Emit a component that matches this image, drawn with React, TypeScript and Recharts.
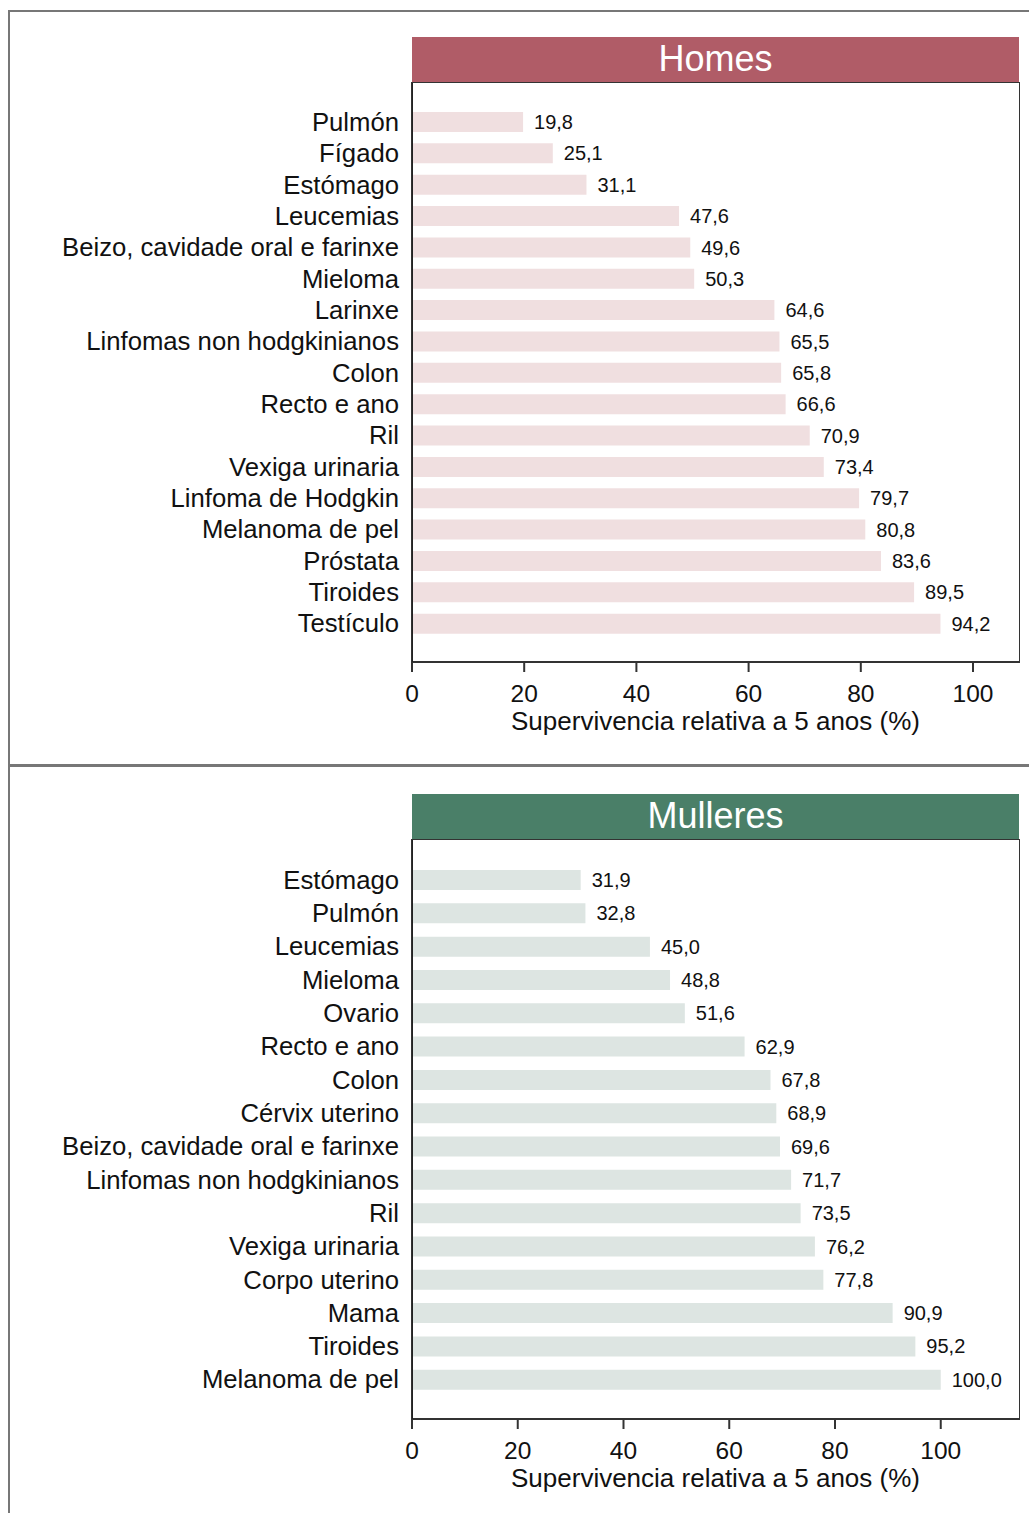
import React from "react";
import { BarChart, Bar, XAxis, YAxis, LabelList } from "recharts";

const homesCancers = [
  "Pulmón", "Fígado", "Estómago", "Leucemias", "Beizo, cavidade oral e farinxe", "Mieloma",
  "Larinxe", "Linfomas non hodgkinianos", "Colon", "Recto e ano", "Ril", "Vexiga urinaria",
  "Linfoma de Hodgkin", "Melanoma de pel", "Próstata", "Tiroides", "Testículo",
];
const homesValues = [19.8, 25.1, 31.1, 47.6, 49.6, 50.3, 64.6, 65.5, 65.8, 66.6, 70.9, 73.4, 79.7, 80.8, 83.6, 89.5, 94.2];

const mulleresCancers = [
  "Estómago", "Pulmón", "Leucemias", "Mieloma", "Ovario", "Recto e ano", "Colon", "Cérvix uterino",
  "Beizo, cavidade oral e farinxe", "Linfomas non hodgkinianos", "Ril", "Vexiga urinaria",
  "Corpo uterino", "Mama", "Tiroides", "Melanoma de pel",
];
const mulleresValues = [31.9, 32.8, 45.0, 48.8, 51.6, 62.9, 67.8, 68.9, 69.6, 71.7, 73.5, 76.2, 77.8, 90.9, 95.2, 100.0];

const xTicks = [0, 20, 40, 60, 80, 100];
const axisTitle = "Supervivencia relativa a 5 anos (%)";

const FONT = "'Liberation Sans', Arial, sans-serif";
const fmt = (v: any) => Number(v).toFixed(1).replace(".", ",");

type PanelProps = {
  title: string;
  headerColor: string;
  barColor: string;
  names: string[];
  values: number[];
  xMax: number;
  top: number;
  height: number;
  plotTop: number;
  plotBottom: number;
};

function Panel({ title, headerColor, barColor, names, values, xMax, top, height, plotTop, plotBottom }: PanelProps) {
  const data = names.map((name, i) => ({ name, value: values[i] }));
  const axisH = 80;
  const marginBottom = height - plotBottom - axisH;
  return (
    <div style={{ position: "absolute", left: 0, top, width: 1029, height }}>
      <div
        style={{
          position: "absolute", left: 412, top: plotTop - 46, width: 607, height: 46,
          background: headerColor, color: "#fff", fontFamily: FONT, fontSize: 36,
          textAlign: "center", lineHeight: "44px",
        }}
      >
        {title}
      </div>
      <BarChart
        width={1029}
        height={height}
        data={data}
        layout="vertical"
        margin={{ top: plotTop, right: 10, left: 12, bottom: marginBottom }}
        style={{ position: "absolute", left: 0, top: 0 }}
      >
        <XAxis
          type="number"
          domain={[0, xMax]}
          ticks={xTicks}
          height={axisH}
          tickSize={10}
          tickMargin={13}
          tick={{ fill: "#111", fontSize: 24.5, fontFamily: FONT }}
          stroke="#333"
          strokeWidth={2}
          allowDataOverflow
          label={{
            content: (p: any) => {
              const vb = p.viewBox;
              return (
                <text x={vb.x + vb.width / 2} y={vb.y + 68} textAnchor="middle" fill="#111" fontSize={26} fontFamily={FONT}>
                  {axisTitle}
                </text>
              );
            },
          }}
        />
        <YAxis
          type="category"
          dataKey="name"
          width={400}
          tickLine={false}
          tickSize={0}
          tickMargin={13}
          padding={{ top: 23, bottom: 23 }}
          interval={0}
          stroke="#222"
          strokeWidth={2}
          tick={{ fill: "#111", fontSize: 25.7, fontFamily: FONT }}
        />
        <Bar dataKey="value" fill={barColor} barSize={20} isAnimationActive={false}>
          <LabelList
            dataKey="value"
            position="right"
            offset={11}
            formatter={fmt}
            style={{ fill: "#111", fontSize: 20, fontFamily: FONT }}
          />
        </Bar>
      </BarChart>
      <div
        style={{
          position: "absolute", left: 411, top: plotTop - 1, width: 609, height: plotBottom - plotTop + 2,
          border: "1.5px solid #333", boxSizing: "border-box", pointerEvents: "none",
        }}
      />
    </div>
  );
}

export default function App() {
  return (
    <div style={{ position: "absolute", left: 0, top: 0, width: 1029, height: 1513, overflow: "hidden", background: "#fff" }}>
      <div style={{ position: "absolute", left: 8, top: 10, width: 1100, height: 2, background: "#777" }} />
      <div style={{ position: "absolute", left: 8, top: 10, width: 2, height: 1503, background: "#777" }} />
      <div style={{ position: "absolute", left: 8, top: 764, width: 1100, height: 3, background: "#777" }} />
      <Panel
        title="Homes"
        headerColor="#b05c67"
        barColor="#f0dfe0"
        names={homesCancers}
        values={homesValues}
        xMax={108.2}
        top={0}
        height={764}
        plotTop={83}
        plotBottom={662}
      />
      <Panel
        title="Mulleres"
        headerColor="#4a7f68"
        barColor="#dde5e2"
        names={mulleresCancers}
        values={mulleresValues}
        xMax={114.8}
        top={767}
        height={746}
        plotTop={73}
        plotBottom={652}
      />
    </div>
  );
}
